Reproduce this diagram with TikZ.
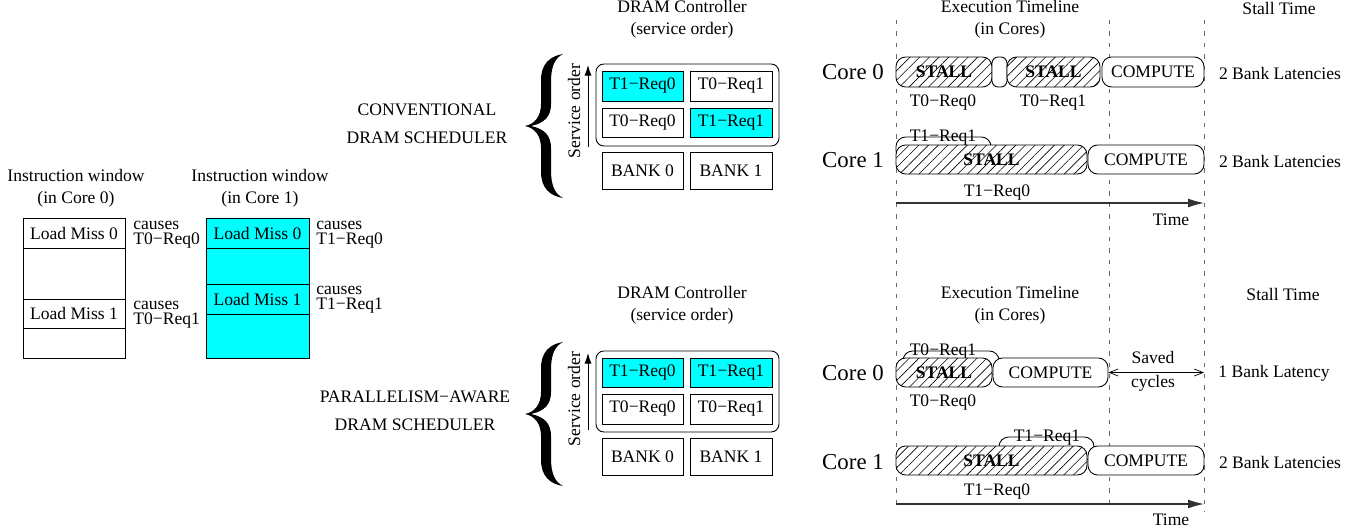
\documentclass[tikz,border=0pt]{standalone}
\usepackage{fontspec}
\setmainfont{Liberation Serif}
\usetikzlibrary{arrows.meta,patterns.meta}
\definecolor{cellcyan}{RGB}{0,255,255}
\definecolor{guide}{RGB}{105,105,105}
\tikzset{
  sz/.style 2 args={minimum width=#1*0.02cm,minimum height=#2*0.02cm},
  lbl/.style={inner sep=0pt,font=\fontsize{10}{12.5}\selectfont,align=center},
  twoline/.style={lbl,anchor=west,align=left,font=\fontsize{10}{8.5}\selectfont},
  corelbl/.style={inner sep=0pt,font=\fontsize{13}{15}\selectfont},
  wcell/.style={draw,line width=0.5pt,fill=white,inner sep=0pt,font=\fontsize{10}{12}\selectfont},
  ccell/.style={wcell,fill=cellcyan},
  queue/.style={draw,line width=0.5pt,rounded corners=4.5pt,inner sep=0pt},
  tbox/.style={draw,line width=0.5pt,rounded corners=5.5pt,fill=white,inner sep=0pt,font=\fontsize{10}{12}\selectfont},
  pill/.style={tbox,rounded corners=3.5pt},
  stallbox/.style={tbox,font=\fontsize{10}{12}\selectfont\bfseries,
    postaction={pattern={Lines[angle=45,distance=3.9pt,line width=0.35pt]}}},
  guideline/.style={guide,line width=0.5pt,dash pattern=on 2.5pt off 4pt},
  axis/.style={line width=0.6pt,black!80,-{Latex[length=9pt,width=5pt]}},
  order/.style={line width=0.5pt,-{Latex[length=6pt,width=4pt]}},
  saved/.style={line width=0.4pt,{Straight Barb[length=5pt,width=4pt]}-{Straight Barb[length=5pt,width=4pt]}},
  brace/.style={fill=black},
}
\newcommand{\bigbrace}{%
  (38,-72) .. controls (25,-70) and (16,-62) .. (16,-46) -- (16,-22)
  .. controls (16,-10) and (10,-2) .. (0,0)
  .. controls (10,2) and (16,10) .. (16,22) -- (16,46)
  .. controls (16,62) and (25,70) .. (38,72)
  .. controls (30,68) and (26,60) .. (26,44) -- (26,22)
  .. controls (26,10) and (20,3) .. (6,0)
  .. controls (20,-3) and (26,-10) .. (26,-22) -- (26,-44)
  .. controls (26,-60) and (30,-68) .. (38,-72) -- cycle}
\begin{document}
\begin{tikzpicture}[x=0.02cm,y=-0.02cm]
\useasboundingbox (0,0) rectangle (1359,531);

% ---------- instruction windows ----------
\node[lbl] (iw0) at (76,188) {Instruction window\\(in Core 0)};
\node[lbl] (iw1) at (260,188) {Instruction window\\(in Core 1)};

\node[wcell,sz={102}{30}] (w0a) at (74,233) {Load Miss 0};
\node[wcell,sz={102}{51}] (w0b) at (74,273.5) {};
\node[wcell,sz={102}{29}] (w0c) at (74,313.5) {Load Miss 1};
\node[wcell,sz={102}{30}] (w0d) at (74,343) {};

\node[ccell,sz={103}{30}] (w1a) at (257.5,233) {Load Miss 0};
\node[ccell,sz={103}{36}] (w1b) at (257.5,266) {};
\node[ccell,sz={103}{30}] (w1c) at (257.5,299) {Load Miss 1};
\node[ccell,sz={103}{44}] (w1d) at (257.5,336) {};

\node[twoline] (m00) at (133,235) {causes\\T0−Req0};
\node[twoline] (m01) at (133,315) {causes\\T0−Req1};
\node[twoline] (m10) at (316,235) {causes\\T1−Req0};
\node[twoline] (m11) at (316,300) {causes\\T1−Req1};

% ---------- schedulers ----------
\node[lbl,font=\fontsize{10}{16}\selectfont] (conv) at (427,124) {CONVENTIONAL\\DRAM SCHEDULER};
\node[lbl,font=\fontsize{10}{16}\selectfont] (par) at (415,411) {PARALLELISM−AWARE\\DRAM SCHEDULER};

\fill[brace,shift={(525,126)}] \bigbrace;
\fill[brace,shift={(525,414)}] \bigbrace;

% conventional controller
\node[lbl] (dc0) at (682,19) {DRAM Controller\\(service order)};
\node[queue,sz={183}{82}] (q0) at (687.5,105) {};
\node[ccell,sz={81}{30}] (q0a) at (642.5,86) {T1−Req0};
\node[wcell,sz={82}{30}] (q0b) at (731,86) {T0−Req1};
\node[wcell,sz={81}{29}] (q0c) at (642.5,122.5) {T0−Req0};
\node[ccell,sz={82}{29}] (q0d) at (731,122.5) {T1−Req1};
\node[wcell,sz={81}{37}] (bk00) at (642.5,170.5) {BANK 0};
\node[wcell,sz={82}{37}] (bk01) at (731,170.5) {BANK 1};
\coordinate (s0b) at (588,147);
\coordinate (s0t) at (588,65);
\draw[order] (s0b) -- (s0t);
\node[lbl,rotate=90] (so0) at (574,111) {Service order};

% parallelism-aware controller
\node[lbl] (dc1) at (682,305) {DRAM Controller\\(service order)};
\node[queue,sz={183}{81}] (q1) at (687.5,391.5) {};
\node[ccell,sz={81}{29}] (q1a) at (642.5,372.5) {T1−Req0};
\node[ccell,sz={82}{29}] (q1b) at (731,372.5) {T1−Req1};
\node[wcell,sz={81}{30}] (q1c) at (642.5,409) {T0−Req0};
\node[wcell,sz={82}{30}] (q1d) at (731,409) {T0−Req1};
\node[wcell,sz={81}{37}] (bk10) at (642.5,456.5) {BANK 0};
\node[wcell,sz={82}{37}] (bk11) at (731,456.5) {BANK 1};
\coordinate (s1b) at (588,430);
\coordinate (s1t) at (588,353);
\draw[order] (s1b) -- (s1t);
\node[lbl,rotate=90] (so1) at (574,399) {Service order};

% ---------- timelines ----------
\draw[guideline] (896,20) -- (896,504);
\draw[guideline] (1109,20) -- (1109,504);
\draw[guideline] (1204,20) -- (1204,512);

\node[lbl] (et0) at (1010,19) {Execution Timeline\\(in Cores)};
\node[lbl] (st0) at (1279,8) {Stall Time};
\node[lbl] (et1) at (1010,305) {Execution Timeline\\(in Cores)};
\node[lbl] (st1) at (1283,294) {Stall Time};

% conventional: core 0
\node[corelbl] (k00) at (853,72) {Core 0};
\node[stallbox,sz={96}{30}] (a0s1) at (944,72) {STALL};
\node[pill,sz={15}{30}] (a0p) at (999.5,72) {};
\node[stallbox,sz={93}{30}] (a0s2) at (1053.5,72) {STALL};
\node[tbox,sz={102}{30}] (a0c) at (1153,72) {COMPUTE};
\node[lbl] (a0r0) at (943,103) {T0−Req0};
\node[lbl] (a0r1) at (1053,103) {T0−Req1};
\node[lbl] (a0t) at (1280,73) {2 Bank Latencies};

% conventional: core 1
\node[corelbl] (k01) at (853,160) {Core 1};
\node[tbox,sz={95}{23}] (a1q) at (943.5,148.5) {};
\node[lbl,anchor=base] (a1r1) at (943,141) {T1−Req1};
\node[stallbox,sz={191}{29}] (a1s) at (991.5,159.5) {STALL};
\node[tbox,sz={116}{29}] (a1c) at (1146,159.5) {COMPUTE};
\node[lbl] (a1r0) at (997,193) {T1−Req0};
\node[lbl] (a1t) at (1280,161) {2 Bank Latencies};
\coordinate (ax0a) at (896,203);
\coordinate (ax0b) at (1204,203);
\draw[axis] (ax0a) -- (ax0b);
\node[lbl] (tm0) at (1171,220) {Time};

% parallelism-aware: core 0
\node[corelbl] (k10) at (853,373) {Core 0};
\node[tbox,sz={96}{24}] (b0q) at (951,363) {};
\node[lbl,anchor=base] (b0r1) at (943,355) {T0−Req1};
\node[stallbox,sz={96}{29}] (b0s) at (944,372.5) {STALL};
\node[tbox,sz={115}{29}] (b0c) at (1050.5,372.5) {COMPUTE};
\node[lbl] (b0r0) at (943,403) {T0−Req0};
\coordinate (sv) at (1204,372.5);
\draw[saved] (b0c.east) -- (sv);
\node[lbl,font=\fontsize{10}{13.5}\selectfont] (svl) at (1153,371) {Saved\\cycles};
\node[lbl] (b0t) at (1274,373) {1 Bank Latency};

% parallelism-aware: core 1
\node[corelbl] (k11) at (853,462) {Core 1};
\node[tbox,sz={95}{23}] (b1q) at (1046.5,448.5) {};
\node[lbl,anchor=base] (b1r1) at (1047,441) {T1−Req1};
\node[stallbox,sz={191}{29}] (b1s) at (991.5,460.5) {STALL};
\node[tbox,sz={116}{29}] (b1c) at (1146,460.5) {COMPUTE};
\node[lbl] (b1r0) at (997,492) {T1−Req0};
\node[lbl] (b1t) at (1280,462) {2 Bank Latencies};
\coordinate (ax1a) at (896,504);
\coordinate (ax1b) at (1204,504);
\draw[axis] (ax1a) -- (ax1b);
\node[lbl] (tm1) at (1171,520) {Time};
\end{tikzpicture}
\end{document}
